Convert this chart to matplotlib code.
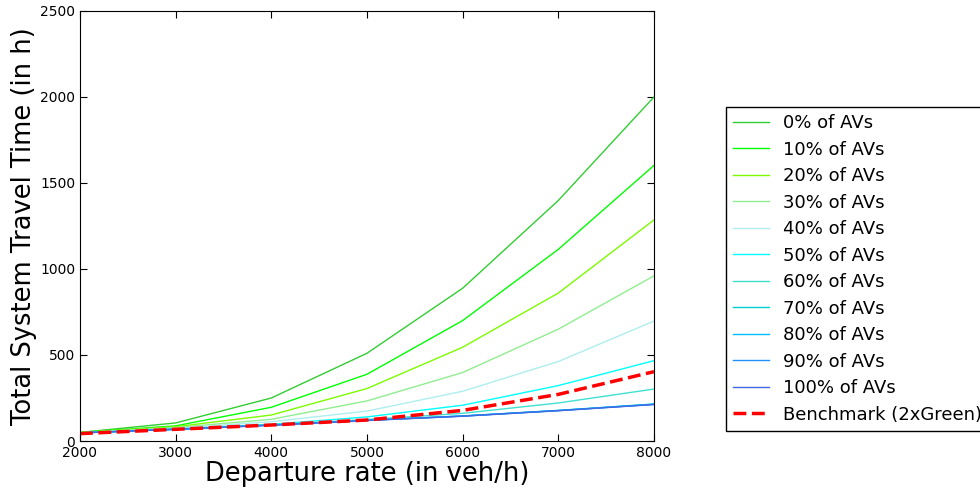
import matplotlib
matplotlib.use("Agg")
import matplotlib.pyplot as plt

# departure rates (veh/h)
rates = [2000, 3000, 4000, 5000, 6000, 7000, 8000]

# total system travel time (h) per AV share
av0 = [50, 105, 250, 510, 888, 1398, 2000]
av10 = [50, 88, 196, 388, 700, 1114, 1602]
av20 = [50, 83, 151, 305, 545, 860, 1285]
av30 = [48, 78, 126, 233, 398, 650, 960]
av40 = [47, 74, 112, 174, 289, 462, 697]
av50 = [47, 70, 97, 140, 208, 322, 467]
av60 = [47, 69, 94, 125, 161, 221, 302]
av70 = [47, 68, 93, 121, 146, 178, 215]
av80 = [47, 68, 93, 120, 145, 177, 214]
av90 = [47, 68, 92, 120, 145, 177, 213]
av100 = [47, 68, 92, 119, 144, 176, 212]
benchmark = [43, 68, 93, 122, 178, 271, 403]

series = [av0, av10, av20, av30, av40, av50, av60, av70, av80, av90, av100]
labels = ['0% of AVs', '10% of AVs', '20% of AVs', '30% of AVs', '40% of AVs',
          '50% of AVs', '60% of AVs', '70% of AVs', '80% of AVs', '90% of AVs',
          '100% of AVs']
colors = ['limegreen', 'lime', 'lawngreen', 'lightgreen', 'paleturquoise',
          'cyan', 'turquoise', 'darkturquoise', 'deepskyblue', 'dodgerblue',
          'royalblue']

fig = plt.figure(figsize=(9.8, 4.9), dpi=100)
ax = fig.add_axes([0.0816, 0.1, 0.5857, 0.8776])

for vals, lab, col in zip(series, labels, colors):
    ax.plot(rates, vals, color=col, linewidth=1, label=lab)
ax.plot(rates, benchmark, color='red', linestyle='--', linewidth=2.5,
        label='Benchmark (2xGreen)')

ax.set_xlim(2000, 8000)
ax.set_ylim(0, 2500)
ax.set_xticks(range(2000, 8001, 1000))
ax.set_yticks(range(0, 2501, 500))
ax.tick_params(direction='in', top=True, right=True, labelsize=10, length=5)
ax.set_xlabel('Departure rate (in veh/h)', fontsize=18.5, labelpad=1)
ax.set_ylabel('Total System Travel Time (in h)', fontsize=18.5, labelpad=2)

leg = ax.legend(loc='center left', bbox_to_anchor=(1.125, 0.4), fontsize=13,
                fancybox=False, edgecolor='black', framealpha=1,
                borderaxespad=0, handlelength=2.0, handletextpad=0.8,
                labelspacing=0.47)
leg.get_frame().set_linewidth(1)

fig.savefig('out.png', dpi=100)
